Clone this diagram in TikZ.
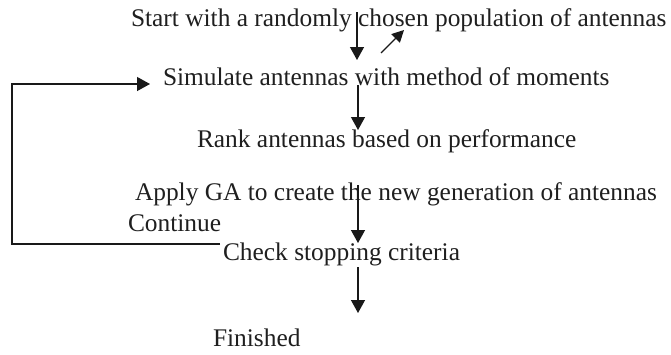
\documentclass[tikz,border=0pt]{standalone}
\usepackage{fontspec}
\setmainfont{Liberation Serif}
\usetikzlibrary{arrows.meta}
\begin{document}
\begin{tikzpicture}[x=1pt,y=-1pt,
  lbl/.style={anchor=base west,inner sep=0pt,outer sep=0pt,text=black!88,font=\fontsize{25.4}{30}\selectfont},
  conn/.style={line width=1.3pt,black!90},
  arr/.style={conn,-{Triangle[length=13pt,width=14pt]}},
  sarr/.style={conn,-{Triangle[length=12pt,width=12pt]}}]
\useasboundingbox[fill=white] (0,0) rectangle (671,354);
\node[lbl] (t1) at (131,26) {Start with a randomly chosen population of antennas};
\node[lbl] (t2) at (163,85) {Simulate antennas with method of moments};
\node[lbl] (t3) at (197,147) {Rank antennas based on performance};
\node[lbl] (t4) at (135,200) {Apply GA to create the new generation of antennas};
\node[lbl] (t5) at (128,231) {Continue};
\node[lbl] (t6) at (223,260) {Check stopping criteria};
\node[lbl] (t7) at (213,346) {Finished};
% arrow endpoints
\coordinate (a1s) at (357,12);
\coordinate (a1e) at (357,60);
\coordinate (d1s) at (381,53);
\coordinate (d1e) at (404,30);
\coordinate (a2s) at (358,85);
\coordinate (a2e) at (358,130);
\coordinate (a3s) at (358,185);
\coordinate (a3e) at (358,243);
\coordinate (a4s) at (358,267);
\coordinate (a4e) at (358,313);
\coordinate (l1) at (220,244);
\coordinate (l2) at (12,244);
\coordinate (l3) at (12,84);
\coordinate (l4) at (150,84);
\draw[arr] (a1s) -- (a1e);
\draw[sarr] (d1s) -- (d1e);
\draw[arr] (a2s) -- (a2e);
\draw[arr] (a3s) -- (a3e);
\draw[arr] (a4s) -- (a4e);
\draw[arr] (l1) -- (l2) -- (l3) -- (l4);
\end{tikzpicture}
\end{document}
